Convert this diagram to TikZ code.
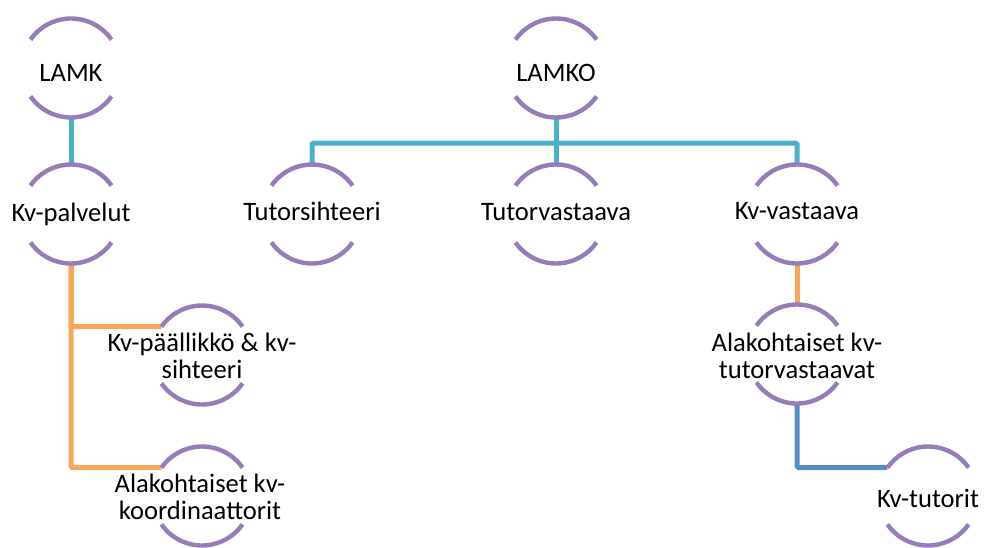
\documentclass[tikz,border=0pt]{standalone}
\usepackage{fontspec}
\setmainfont{Carlito}
\pgfdeclarelayer{background}
\pgfsetlayers{background,main}
\definecolor{ringpurple}{RGB}{150,124,185}
\definecolor{linkcyan}{RGB}{75,176,204}
\definecolor{linkorange}{RGB}{249,166,88}
\definecolor{linkblue}{RGB}{88,142,199}
\tikzset{
  ring/.style={circle,minimum size=99pt,inner sep=0pt,outer sep=0pt},
  ringarc/.style={draw=ringpurple,line width=4.4pt},
  ringtext/.style={anchor=base,inner sep=0pt,font=\fontsize{26.6}{27}\selectfont,text=black},
  link/.style={line width=5pt,rounded corners=1.5pt},
}
\newcommand\ringnode[2]{%
  \node[ring] (#1) at (#2) {};
  \draw[ringarc] (#1.35) arc[start angle=35,end angle=145,radius=49.5pt];
  \draw[ringarc] (#1.-145) arc[start angle=-145,end angle=-35,radius=49.5pt];}
\newcommand\twoline[2]{\begin{tabular}[t]{@{}c@{}}#1\\#2\end{tabular}}
\begin{document}
\begin{tikzpicture}[x=1pt,y=1pt]
\useasboundingbox (0,0) rectangle (984,-547);
% rings
\ringnode{lamk}{71,-68}
\ringnode{lamko}{556,-68}
\ringnode{kvpalv}{71,-214}
\ringnode{tutors}{312,-214}
\ringnode{tutorv}{556,-214}
\ringnode{kvv}{797,-214}
\ringnode{kvpaal}{202,-355}
\ringnode{alak1}{202,-496}
\ringnode{alak2}{797,-354}
\ringnode{kvtut}{928,-496}
% texts
\node[ringtext] (lamk-t) at (71,-81) {LAMK};
\node[ringtext] (lamko-t) at (556,-81) {LAMKO};
\node[ringtext] (kvpalv-t) at (71,-221) {Kv-palvelut};
\node[ringtext] (tutors-t) at (312,-220) {Tutorsihteeri};
\node[ringtext] (tutorv-t) at (556,-220) {Tutorvastaava};
\node[ringtext] (kvv-t) at (797,-219) {Kv-vastaava};
\node[ringtext] (kvpaal-t) at (202,-351) {\twoline{Kv-päällikkö \& kv-}{sihteeri}};
\node[ringtext] (alak1-t) at (200,-492) {\twoline{Alakohtaiset kv-}{koordinaattorit}};
\node[ringtext] (alak2-t) at (797,-351) {\twoline{Alakohtaiset kv-}{tutorvastaavat}};
\node[ringtext] (kvtut-t) at (928,-507) {Kv-tutorit};
% connectors
\begin{pgfonlayer}{background}
\coordinate (bus) at (556,-143);
\draw[link,linkcyan] (lamk.south) -- (kvpalv.north);
\draw[link,linkcyan] (lamko.south) -- (tutorv.north);
\draw[link,linkcyan] (tutors.north) |- (bus) -| (kvv.north);
\draw[link,linkorange] (kvpalv.south) |- (kvpaal.145);
\draw[link,linkorange] (kvpalv.south) |- (alak1.145);
\draw[link,linkorange] (kvv.south) -- (alak2.north);
\draw[link,linkblue] (alak2.south) |- (kvtut.145);
\end{pgfonlayer}
\end{tikzpicture}
\end{document}
